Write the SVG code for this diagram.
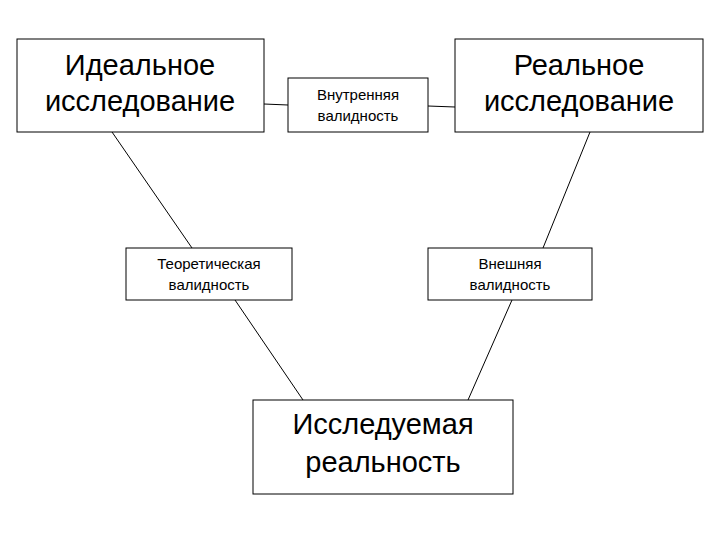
<svg xmlns="http://www.w3.org/2000/svg" width="720" height="540" viewBox="0 0 720 540">
<style>
rect{fill:#fff;stroke:#000;stroke-width:1}
line{stroke:#000;stroke-width:1}
text{font-family:"Liberation Sans",Arial,sans-serif;text-anchor:middle;fill:#000}
.b{font-size:29px}.s{font-size:15px}
</style>
<rect x="0" y="0" width="720" height="540" style="stroke:none"/>
<g id="connectors">
<line x1="264" y1="104" x2="288" y2="105"/>
<line x1="428" y1="106" x2="455" y2="107"/>
<line x1="112" y1="132" x2="192" y2="248"/>
<line x1="590" y1="132" x2="543" y2="248"/>
<line x1="235" y1="300" x2="303" y2="400"/>
<line x1="512" y1="300" x2="468" y2="400"/>
</g>
<g id="ideal"><rect x="17" y="39" width="247" height="93"/>
<text class="b" x="140" y="75">Идеальное</text><text class="b" x="140" y="111">исследование</text></g>
<g id="internal"><rect x="288" y="78" width="140" height="54"/>
<text class="s" x="358" y="100">Внутренняя</text><text class="s" x="358" y="121">валидность</text></g>
<g id="real"><rect x="455" y="39" width="248" height="93"/>
<text class="b" x="579" y="75">Реальное</text><text class="b" x="579" y="111">исследование</text></g>
<g id="theoretical"><rect x="126" y="248" width="166" height="52"/>
<text class="s" x="209" y="269">Теоретическая</text><text class="s" x="209" y="290">валидность</text></g>
<g id="external"><rect x="428" y="248" width="164" height="52"/>
<text class="s" x="510" y="269">Внешняя</text><text class="s" x="510" y="290">валидность</text></g>
<g id="reality"><rect x="253" y="400" width="260" height="94"/>
<text class="b" x="383" y="434">Исследуемая</text><text class="b" x="383" y="472">реальность</text></g>
</svg>
